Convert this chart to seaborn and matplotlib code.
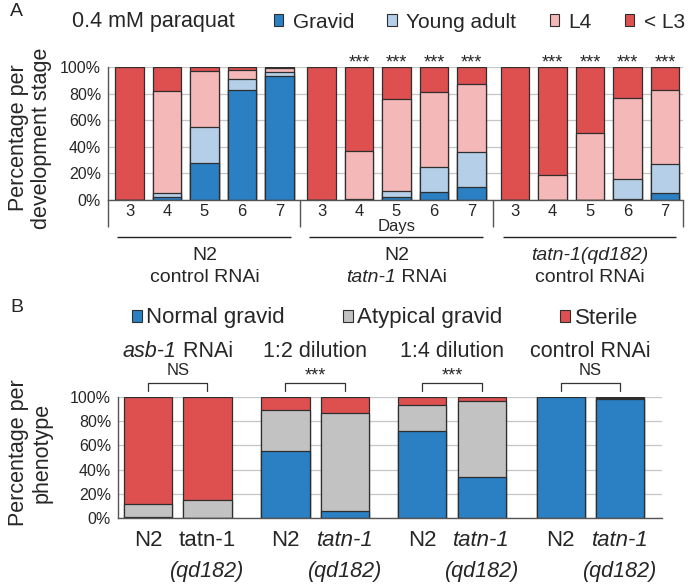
import numpy as np
import pandas as pd
import matplotlib
matplotlib.use('Agg')
import matplotlib.pyplot as plt
import seaborn as sns
from matplotlib.patches import Patch
from matplotlib import transforms

# ---- data, panel A (percent per stage, 3 strains x days 3-7) ----
days = ['3', '4', '5', '6', '7']
groups_A = [('N2', [('control RNAi', 'normal')]),
            ('N2', [('tatn-1', 'italic'), (' RNAi', 'normal')]),
            ('tatn-1(qd182)', [('control RNAi', 'normal')])]
gravid_A = [0, 2.5, 28, 83, 93, 0, 0, 2, 6, 10, 0, 0, 0, 0.5, 5]
young_A = [0, 2.5, 27, 8, 3, 0, 0.5, 5, 19, 26, 0, 0, 0, 15, 22]
l4_A = [0, 77, 42, 7, 3, 0, 36.5, 69, 56, 51, 0, 19, 50.5, 61.5, 55.5]
lt_l3_A = [100, 18, 3, 2, 1, 100, 63, 24, 19, 13, 100, 81, 49.5, 23, 17.5]
stars_A = ['', '', '', '', '', '', '***', '***', '***', '***', '', '***', '***', '***', '***']

# ---- data, panel B (percent per phenotype) ----
conditions_B = ['asb-1 RNAi', '1:2 dilution', '1:4 dilution', 'control RNAi']
signif_B = ['NS', '***', '***', 'NS']
normal_B = [1, 0, 55.5, 5.5, 72, 33.5, 100, 98]
atypical_B = [10.5, 15, 33.5, 81.5, 21.5, 63.5, 0, 1]
sterile_B = [88.5, 85, 11, 13, 6.5, 3, 0, 1]

BLUE = '#2a80c2'
LBLUE = '#b4cfe7'
PINK = '#f4b8b8'
RED = '#de5050'
GREY = '#c2c2c2'
EDGE = '#2e2e2e'

sns.set_style('white')
plt.rcParams['font.family'] = ['Liberation Sans', 'DejaVu Sans']

fig = plt.figure(figsize=(6.93, 5.84), dpi=100)
axA = fig.add_axes([108/693, 1-200/584, (683-108)/693, 133/584])
axB = fig.add_axes([118/693, 1-518/584, (662-118)/693, 121/584])


def rich(ax, x, y, parts, transform, **kw):
    # mixed italic / roman text centred on x
    texts = [ax.text(x, y, s, transform=transform, fontstyle=st, ha='left',
                     va='center', clip_on=False, **kw) for s, st in parts]
    r = fig.canvas.get_renderer()
    ws = [t.get_window_extent(r).width for t in texts]
    off = -sum(ws) / 2
    for t, w in zip(texts, ws):
        t.set_transform(transform + transforms.ScaledTranslation(off/fig.dpi, 0, fig.dpi_scale_trans))
        off += w


def style_axis(ax):
    ax.set_ylim(0, 100)
    ax.set_yticks(range(0, 101, 20), [f'{v}%' for v in range(0, 101, 20)])
    ax.set_yticks(np.arange(0, 101, 5), minor=True)
    ax.yaxis.grid(True, color='#c6c6c6', lw=0.9)
    ax.set_axisbelow(True)
    for s in ['top', 'right']:
        ax.spines[s].set_visible(False)
    for s in ['left', 'bottom']:
        ax.spines[s].set_color('#555555')
        ax.spines[s].set_linewidth(1.0)
    ax.tick_params(axis='y', which='major', length=3, color='#555555', pad=2, labelsize=11.5)
    ax.tick_params(axis='y', which='minor', length=2, direction='in', color='#777777')
    ax.set_xlabel('')
    ax.set_ylabel('')


# ---------------- panel A ----------------
offA = [0, 5.12, 10.28]
posA = np.concatenate([o + np.arange(len(days)) for o in offA])
dfA = pd.DataFrame({'pos': posA, 'gravid': gravid_A, 'young': young_A,
                    'l4': l4_A, 'lt_l3': lt_l3_A})
dfA['c_gravid'] = dfA['gravid']
dfA['c_young'] = dfA['c_gravid'] + dfA['young']
dfA['c_l4'] = dfA['c_young'] + dfA['l4']
dfA['c_all'] = dfA['c_l4'] + dfA['lt_l3']

for col, c in [('c_all', RED), ('c_l4', PINK), ('c_young', LBLUE), ('c_gravid', BLUE)]:
    sns.barplot(data=dfA, x='pos', y=col, native_scale=True, color=c, saturation=1,
                width=0.77, edgecolor=EDGE, linewidth=0.9, errorbar=None, ax=axA)

axA.set_xlim(-0.573, 14.76)
style_axis(axA)
axA.set_xticks(posA, days * 3, fontsize=12)
axA.tick_params(axis='x', which='major', length=0, pad=3)
axA.set_xticks(np.concatenate([o + np.arange(0.5, 4, 1) for o in offA]), minor=True)
axA.tick_params(axis='x', which='minor', length=5, color='#555555')

trA = transforms.blended_transform_factory(axA.transData, axA.transAxes)
axA.vlines([-0.573, 4.56, 9.7, 14.76], -0.2, 0, transform=trA, clip_on=False,
           color='#555555', lw=1.0)
for p, s in zip(posA, stars_A):
    if s:
        axA.text(p, 1.0, s, transform=trA, ha='center', va='baseline', fontsize=13)
axA.text(offA[1] + 2, -0.2, 'Days', transform=trA, ha='center', va='center', fontsize=12)
for o, (top, bottom) in zip(offA, groups_A):
    axA.hlines(-0.278, o - 0.33, o + 4.3, transform=trA, clip_on=False, color='#222222', lw=1.0)
    axA.text(o + 2, -0.414, top, transform=trA, ha='center', va='center', fontsize=14,
             fontstyle='italic' if 'qd182' in top else 'normal')
    rich(axA, o + 2, -0.579, bottom, trA, fontsize=14)

fig.text(10/693, 1-12/584, 'A', fontsize=14, va='center')
fig.text(72/693, 1-22/584, '0.4 mM paraquat', fontsize=15.5, va='center')
handlesA = [Patch(fc=BLUE, ec=EDGE, lw=0.8, label='Gravid'),
            Patch(fc=LBLUE, ec=EDGE, lw=0.8, label='Young adult'),
            Patch(fc=PINK, ec=EDGE, lw=0.8, label='L4'),
            Patch(fc=RED, ec=EDGE, lw=0.8, label='< L3')]
fig.legend(handles=handlesA, loc='center left', bbox_to_anchor=(274/693, 1-22/584),
           ncol=4, frameon=False, fontsize=15, handlelength=0.45, handleheight=0.45,
           handletextpad=0.45, columnspacing=1.6, borderaxespad=0, borderpad=0)
fig.text(30/693, 1-138/584, 'Percentage per\ndevelopment stage', rotation=90,
         ha='center', va='center', fontsize=15.5, linespacing=1.15)

# ---------------- panel B ----------------
offB = [0, 2.31, 4.61, 6.94]
posB = np.concatenate([o + np.arange(2) for o in offB])
dfB = pd.DataFrame({'pos': posB, 'normal': normal_B, 'atypical': atypical_B,
                    'sterile': sterile_B})
dfB['c_normal'] = dfB['normal']
dfB['c_atyp'] = dfB['c_normal'] + dfB['atypical']
dfB['c_all'] = dfB['c_atyp'] + dfB['sterile']

for col, c in [('c_all', RED), ('c_atyp', GREY), ('c_normal', BLUE)]:
    sns.barplot(data=dfB, x='pos', y=col, native_scale=True, color=c, saturation=1,
                width=0.81, edgecolor=EDGE, linewidth=0.9, errorbar=None, ax=axB)

axB.set_xlim(-0.504, 8.64)
style_axis(axB)
axB.set_xticks(posB, [''] * len(posB))
axB.tick_params(axis='x', which='major', length=0)
axB.set_xticks(np.unique(np.round(np.concatenate([posB - 0.5, posB + 0.5]), 3)), minor=True)
axB.tick_params(axis='x', which='minor', length=6, color='#555555')

trB = transforms.blended_transform_factory(axB.transData, axB.transAxes)
for i, (o, cond, sig) in enumerate(zip(offB, conditions_B, signif_B)):
    c = o + 0.5
    if cond.startswith('asb-1'):
        rich(axB, c, 1.372, [('asb-1', 'italic'), (' RNAi', 'normal')], trB, fontsize=15.5)
    else:
        axB.text(c, 1.372, cond, transform=trB, ha='center', va='center', fontsize=15.5)
    axB.plot([o, o, o + 1, o + 1], [1.050, 1.116, 1.116, 1.050], transform=trB,
             clip_on=False, color='#333333', lw=0.9)
    if sig == 'NS':
        axB.text(c, 1.215, sig, transform=trB, ha='center', va='center', fontsize=12)
    else:
        axB.text(c, 1.14, sig, transform=trB, ha='center', va='baseline', fontsize=13)
    axB.text(o, -0.19, 'N2', transform=trB, ha='center', va='center', fontsize=16)
    axB.text(o + 1, -0.19, 'tatn-1', transform=trB, ha='center', va='center', fontsize=16,
             fontstyle='normal' if i == 0 else 'italic')
    axB.text(o + 1, -0.44, '(qd182)', transform=trB, ha='center', va='center', fontsize=15.5,
             fontstyle='italic')

fig.text(10/693, 1-308/584, 'B', fontsize=14, va='center')
handlesB = [Patch(fc=BLUE, ec=EDGE, lw=0.8, label='Normal gravid'),
            Patch(fc=GREY, ec=EDGE, lw=0.8, label='Atypical gravid'),
            Patch(fc=RED, ec=EDGE, lw=0.8, label='Sterile')]
fig.legend(handles=handlesB, loc='center left', bbox_to_anchor=(132/693, 1-318/584),
           ncol=3, frameon=False, fontsize=16, handlelength=0.45, handleheight=0.45,
           handletextpad=0.2, columnspacing=2.6, borderaxespad=0, borderpad=0)
fig.text(30/693, 1-453/584, 'Percentage per\nphenotype', rotation=90,
         ha='center', va='center', fontsize=15.5, linespacing=1.15)

fig.savefig('out.png', dpi=100)
